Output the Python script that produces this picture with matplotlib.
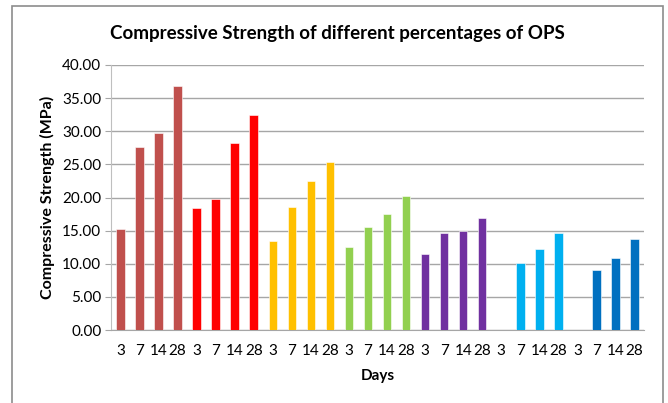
import matplotlib
matplotlib.use('Agg')
import matplotlib.pyplot as plt
from matplotlib.patches import Rectangle

plt.rcParams['font.family'] = ['Lato', 'DejaVu Sans']

# Datos: 7 mezclas x 4 edades (dias)
days = ['3', '7', '14', '28'] * 7
strength = [15.3, 27.6, 29.7, 36.9,
            18.4, 19.7, 28.2, 32.4,
            13.4, 18.5, 22.5, 25.3,
            12.5, 15.5, 17.5, 20.2,
            11.5, 14.6, 14.9, 16.9,
            0.0, 10.1, 12.3, 14.6,
            0.0, 9.05, 10.9, 13.7]
group_colors = ['#C0504D', '#FF0000', '#FFC000', '#92D050',
                '#7030A0', '#00B0F0', '#0070C0']

colors = [c for c in group_colors for _ in range(4)]
x = list(range(len(strength)))

fig = plt.figure(figsize=(6.68, 4.03), dpi=100)
ax = fig.add_axes([111 / 668, 1 - 330 / 403, (644 - 111) / 668, (330 - 65) / 403])

# Marco exterior del grafico
fig.patches.append(Rectangle((12 / 668, -0.05), (663 - 12) / 668, 1.05 - 6 / 403,
                             transform=fig.transFigure, fill=False,
                             edgecolor='#8C8C8C', linewidth=1.2))

ax.bar(x, strength, width=0.45, color=colors, edgecolor='white', linewidth=0.4, zorder=3)

ax.set_xlim(-0.5, len(strength) - 0.5)
ax.set_ylim(0, 40)
ax.set_yticks(range(0, 41, 5))
ax.set_yticklabels(['{:.2f}'.format(v) for v in range(0, 41, 5)], fontsize=11)
ax.set_xticks(x)
ax.set_xticklabels(days, fontsize=11)
ax.tick_params(axis='x', length=0, pad=10)
ax.tick_params(axis='y', length=4, color='#A6A6A6', pad=3)

ax.grid(axis='y', color='#A6A6A6', linewidth=1, zorder=0)
for s in ['top', 'right']:
    ax.spines[s].set_visible(False)
ax.spines['left'].set_color('#BFBFBF')
ax.spines['bottom'].set_color('#A6A6A6')

ax.set_xlabel('Days', fontsize=11, fontweight='bold', labelpad=8)
ax.set_ylabel('Compressive Strength (MPa)', fontsize=11.5, fontweight='bold', labelpad=5)
fig.text(337 / 668, 1 - 33 / 403, 'Compressive Strength of different percentages of OPS',
         ha='center', va='center', fontsize=13.5, fontweight='bold')

fig.savefig('out.png', dpi=100)
